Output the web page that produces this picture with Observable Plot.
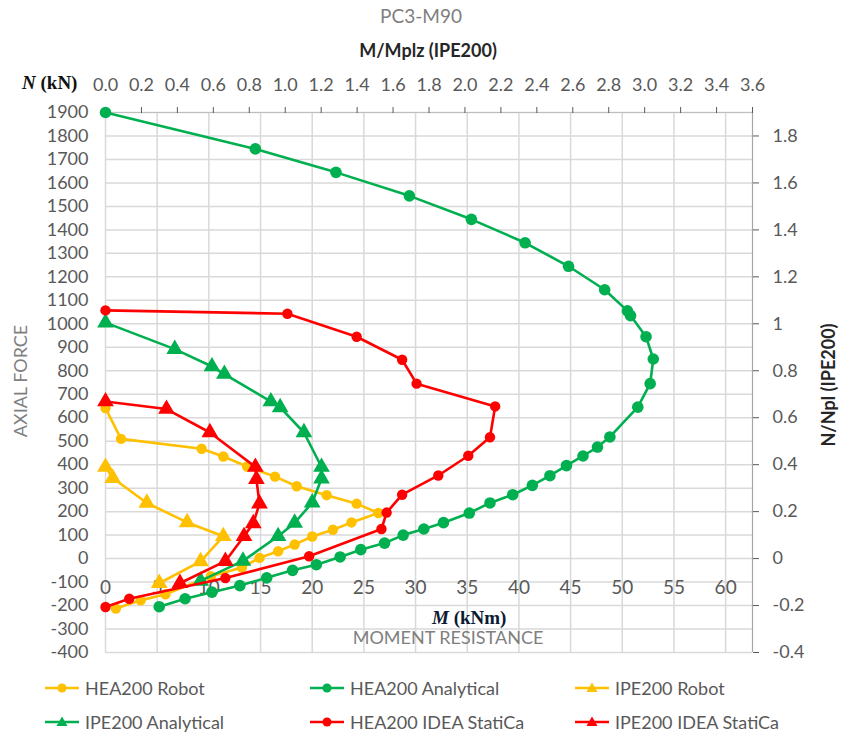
<!DOCTYPE html>
<html><head><meta charset="utf-8">
<script src="https://cdn.jsdelivr.net/npm/d3@7"></script>
<script src="https://cdn.jsdelivr.net/npm/@observablehq/plot@0.6"></script>
<style>
body{margin:0;background:#fff;font-family:Lato,"Open Sans",sans-serif;}
#wrap{position:relative;width:842px;height:737px;overflow:hidden;background:#fff}
.abs{position:absolute;white-space:nowrap;line-height:1;z-index:2}
#chart{position:absolute;left:0;top:70px;z-index:1}
.leg{position:absolute;font-size:18px;color:#595959;display:flex;align-items:center;line-height:1}
.leg svg{margin-right:4px}
</style></head><body>
<div id="wrap">
  <div id="chart"></div>
  <div class="abs" style="left:0;width:842px;top:6px;text-align:center;font-size:19px;color:#7f7f7f">PC3-M90</div>
  <div class="abs" style="left:0;width:856px;top:41px;text-align:center;font-size:18px;font-weight:bold;color:#262626">M/Mplz (IPE200)</div>
  <div class="abs" style="left:22px;top:73px;font-family:'Liberation Serif','DejaVu Serif',serif;font-weight:bold;font-size:19px;color:#111"><i>N</i> (kN)</div>
  <div class="abs" style="left:20px;top:381px;transform:translate(-50%,-50%) rotate(-90deg);font-size:18px;color:#7f7f7f">AXIAL FORCE</div>
  <div class="abs" style="left:828px;top:385px;transform:translate(-50%,-50%) rotate(-90deg);font-size:18px;font-weight:bold;color:#262626">N/Npl (IPE200)</div>
  <div class="abs" style="left:432px;top:608px;font-family:'Liberation Serif','DejaVu Serif',serif;font-weight:bold;font-size:19px;color:#0d1a33"><i>M</i> (kNm)</div>
  <div class="abs" style="left:0;width:896px;top:628px;text-align:center;font-size:18px;color:#7f7f7f">MOMENT RESISTANCE</div>
  <div id="legend"></div>
</div>
<script>
// ---- data (M in kNm, N in kN) ----
const hea200RobotM = [0, 1.5, 9.3, 11.4, 13.7, 16.4, 18.5, 21.4, 24.3, 26.4, 23.8, 22.0, 20.0, 18.3, 16.7, 14.9, 13.2, 10.2, 5.8, 3.4, 1.0];
const hea200RobotN = [641, 510, 468, 435, 392, 349, 308, 270, 234, 194, 154, 123, 94, 60, 31, 3, -38, -75, -152, -178, -213];

const hea200AnalyticalM = [0, 14.5, 22.3, 29.4, 35.4, 40.6, 44.8, 48.3, 50.5, 50.8, 52.3, 53.0, 52.7, 51.5, 48.8, 47.6, 46.2, 44.6, 43.0, 41.3, 39.4, 37.2, 35.2, 32.7, 30.8, 28.8, 27.0, 24.7, 22.7, 20.4, 18.1, 15.6, 13.0, 10.3, 7.7, 5.2];
const hea200AnalyticalN = [1900, 1745, 1645, 1545, 1445, 1345, 1245, 1145, 1055, 1035, 945, 850, 745, 645, 518, 475, 437, 396, 353, 312, 272, 237, 194, 153, 126, 100, 66, 38, 7, -26, -50, -82, -115, -143, -171, -205];

const ipe200RobotM = [0, 0.7, 4.0, 7.9, 11.4, 9.2, 5.2];
const ipe200RobotN = [390, 343, 237, 154, 95, -12, -105];

const ipe200AnalyticalM = [0, 6.7, 10.3, 11.5, 16.0, 16.9, 19.2, 20.9, 20.9, 20.0, 18.3, 16.7, 13.3, 9.2];
const ipe200AnalyticalN = [1005, 892, 818, 786, 669, 644, 537, 390, 340, 238, 152, 95, -10, -95];

const hea200IdeaM = [0, 17.6, 24.3, 28.7, 30.1, 37.7, 37.2, 35.1, 32.2, 28.7, 27.2, 26.7, 19.7, 11.6, 2.3, 0];
const hea200IdeaN = [1057, 1043, 945, 847, 745, 648, 517, 438, 354, 272, 196, 126, 10, -83, -171, -206];

const ipe200IdeaM = [0, 5.9, 10.1, 14.5, 14.6, 14.9, 14.3, 13.4, 11.6, 7.2];
const ipe200IdeaN = [669, 637, 537, 390, 338, 234, 150, 95, -11, -105];

const seriesNames = ["HEA200 Robot", "HEA200 Analytical", "IPE200 Robot", "IPE200 Analytical", "HEA200 IDEA StatiCa", "IPE200 IDEA StatiCa"];
const seriesColors = ["#FFC000", "#00B050", "#FFC000", "#00B050", "#FF0000", "#FF0000"];
const seriesSymbols = ["circle", "circle", "triangle", "triangle", "circle", "triangle"];
const seriesM = [hea200RobotM, hea200AnalyticalM, ipe200RobotM, ipe200AnalyticalM, hea200IdeaM, ipe200IdeaM];
const seriesN = [hea200RobotN, hea200AnalyticalN, ipe200RobotN, ipe200AnalyticalN, hea200IdeaN, ipe200IdeaN];

// axes
const xMax = 62.6;                 // kNm at right edge of plot
const xTicks = [0, 5, 10, 15, 20, 25, 30, 35, 40, 45, 50, 55, 60];
const yTicks = d3.range(-400, 1901, 100);
const topTicks = [0, 0.2, 0.4, 0.6, 0.8, 1.0, 1.2, 1.4, 1.6, 1.8, 2.0, 2.2, 2.4, 2.6, 2.8, 3.0, 3.2, 3.4, 3.6];
const topMax = 3.6;
const rightTicks = [-0.4, -0.2, 0, 0.2, 0.4, 0.6, 0.8, 1, 1.2, 1.4, 1.6, 1.8];
const nplScale = 1000; // N/Npl = N / 1000 kN

const marks = [
  Plot.gridX(xTicks, {stroke: "#d9d9d9", strokeOpacity: 1, strokeWidth: 1.5}),
  Plot.gridY(yTicks, {stroke: "#d9d9d9", strokeOpacity: 1, strokeWidth: 1.5}),
  Plot.ruleX([xMax], {stroke: "#a6a6a6", strokeWidth: 1.2}),
  Plot.ruleY([1900], {stroke: "#bfbfbf", strokeWidth: 1.2}),
  Plot.axisX(topTicks.map(t => t * xMax / topMax), {
    anchor: "top", tickSize: 6, tickPadding: 16, fontSize: 18,
    tickFormat: d => (Math.round(d * topMax / xMax * 10) / 10).toFixed(1), label: null
  }),
  Plot.axisY(yTicks, {anchor: "left", tickSize: 0, tickPadding: 17, fontSize: 18, tickFormat: d => String(d), label: null}),
  Plot.axisY(rightTicks.map(t => t * nplScale), {
    anchor: "right", tickSize: 6, tickPadding: 14, fontSize: 18,
    tickFormat: d => String(+(d / nplScale).toFixed(1)), label: null
  }),
  Plot.text(xTicks, {x: d => d, frameAnchor: "bottom", dy: -59, text: d => String(d), fontSize: 19, fill: "#595959"})
];

seriesNames.forEach((name, k) => {
  const data = seriesM[k].map((m, i) => ({M: m, N: seriesN[k][i]}));
  marks.push(Plot.line(data, {x: "M", y: "N", stroke: seriesColors[k], strokeWidth: 2.6}));
  marks.push(Plot.dot(data, {x: "M", y: "N", fill: seriesColors[k], stroke: "none",
    symbol: seriesSymbols[k], r: seriesSymbols[k] === "circle" ? (k === 1 ? 5.8 : 5.2) : 6.2}));
});

const chart = Plot.plot({
  width: 842, height: 595,
  marginTop: 42, marginBottom: 13, marginLeft: 105, marginRight: 90,
  style: {fontFamily: "Lato, 'Open Sans', sans-serif", color: "#595959", background: "transparent", overflow: "visible"},
  x: {domain: [0, xMax], axis: null},
  y: {domain: [-400, 1900], axis: null},
  marks
});
document.getElementById("chart").appendChild(chart);

// legend
const legPos = [[45, 688], [310, 688], [575, 688], [45, 722], [310, 722], [575, 722]];
const legend = document.getElementById("legend");
seriesNames.forEach((name, k) => {
  const div = document.createElement("div");
  div.className = "leg";
  div.style.left = legPos[k][0] + "px";
  div.style.top = (legPos[k][1] - 10) + "px";
  const c = seriesColors[k];
  const sym = seriesSymbols[k] === "circle"
    ? `<circle cx="17" cy="10" r="4.5" fill="${c}"/>`
    : `<path d="M17,4.5 L22.5,14 L11.5,14 Z" fill="${c}"/>`;
  div.innerHTML = `<svg width="36" height="20"><line x1="0" y1="10" x2="34" y2="10" stroke="${c}" stroke-width="2.6"/>${sym}</svg><span>${name}</span>`;
  legend.appendChild(div);
});
</script>
</body></html>
